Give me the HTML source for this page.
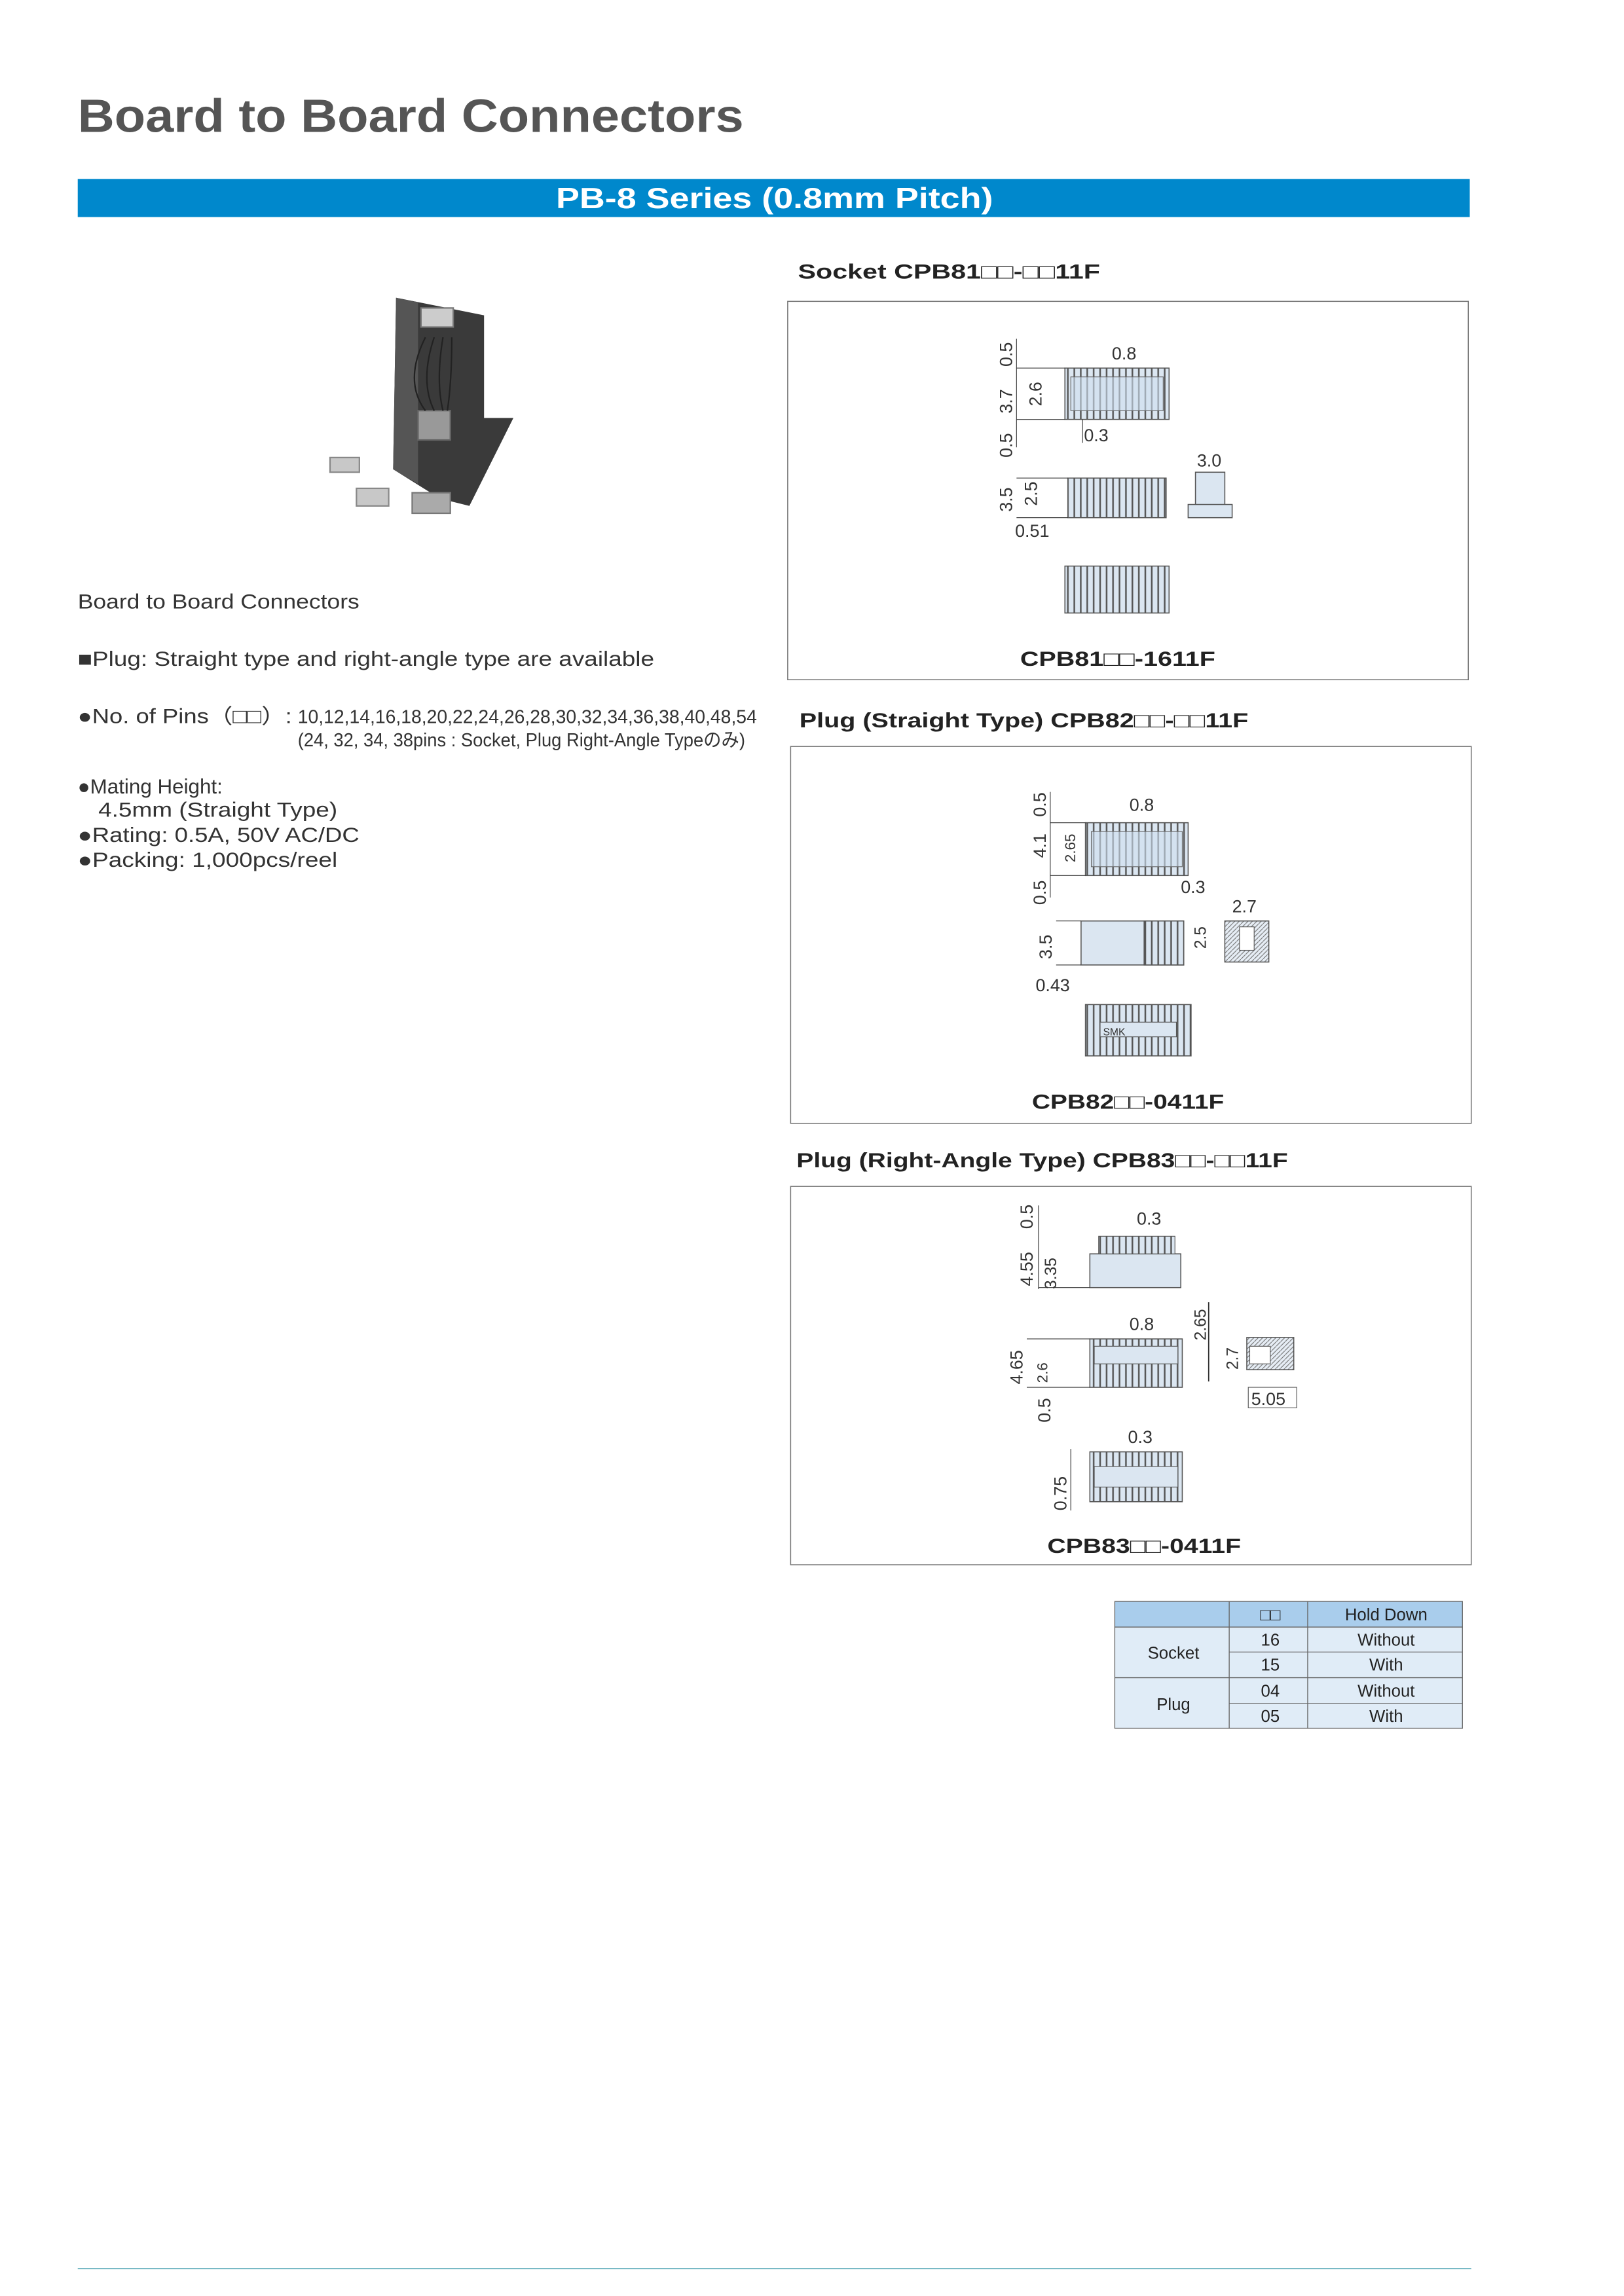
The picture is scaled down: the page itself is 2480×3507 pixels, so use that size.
<!DOCTYPE html>
<html><head><meta charset="utf-8"><style>
html,body{margin:0;padding:0;background:#fff;}
svg{display:block;}
text{font-family:"Liberation Sans","Noto Sans CJK JP",sans-serif;}
</style></head><body>
<svg width="2480" height="3507" viewBox="0 0 2480 3507" xmlns="http://www.w3.org/2000/svg">
<defs>
<pattern id="pins" width="4.4" height="10" patternUnits="userSpaceOnUse"><rect width="4.4" height="10" fill="#dbe6f1"/><line x1="2" y1="0" x2="2" y2="10" stroke="#555" stroke-width="1.1"/></pattern>
<pattern id="hatch" width="3" height="3" patternUnits="userSpaceOnUse"><rect width="3" height="3" fill="#e6edf5"/><line x1="0" y1="3" x2="3" y2="0" stroke="#777" stroke-width="0.5"/></pattern>
</defs>
<g transform="scale(2.24)">
<text x="53" y="90" font-size="32" font-weight="bold" fill="#555" textLength="454" lengthAdjust="spacingAndGlyphs">Board to Board Connectors</text>
<rect x="53" y="122" width="949" height="26" fill="#0088cc"/>
<text x="528" y="142" font-size="20" font-weight="bold" fill="#fff" text-anchor="middle" textLength="298" lengthAdjust="spacingAndGlyphs">PB-8 Series (0.8mm Pitch)</text>

<!-- photo -->
<polygon points="270,203 330,215 330,285 350,285 320,345 300,340 268,320" fill="#3a3a3a"/>
<polygon points="270,203 285,206 285,330 268,320" fill="#555"/>
<rect x="287" y="210" width="22" height="13" fill="#ccc" stroke="#777"/>
<rect x="285" y="280" width="22" height="20" fill="#999" stroke="#666"/>
<path d="M290 230 q-15 30 0 50 M296 230 q-10 30 0 50 M302 230 q-5 30 0 50 M308 230 q0 30 -3 50" stroke="#222" fill="none"/>
<rect x="225" y="312" width="20" height="10" fill="#c8c8c8" stroke="#888"/>
<rect x="243" y="333" width="22" height="12" fill="#c8c8c8" stroke="#888"/>
<rect x="281" y="336" width="26" height="14" fill="#aaa" stroke="#777"/>

<text x="53" y="415" font-size="14" fill="#333" textLength="192" lengthAdjust="spacingAndGlyphs">Board to Board Connectors</text>
<text x="53" y="454" font-size="14" fill="#333" textLength="393" lengthAdjust="spacingAndGlyphs">■Plug: Straight type and right-angle type are available</text>
<text x="53" y="493" font-size="14" fill="#333" textLength="146" lengthAdjust="spacingAndGlyphs">●No. of Pins（□□）:</text>
<text x="203" y="493" font-size="13" fill="#333" textLength="313" lengthAdjust="spacingAndGlyphs">10,12,14,16,18,20,22,24,26,28,30,32,34,36,38,40,48,54</text>
<text x="203" y="509" font-size="13" fill="#333" textLength="305" lengthAdjust="spacingAndGlyphs">(24, 32, 34, 38pins : Socket, Plug Right-Angle Typeのみ)</text>
<text x="53" y="541" font-size="14" fill="#333">●Mating Height:</text>
<text x="67" y="557" font-size="14" fill="#333" textLength="163" lengthAdjust="spacingAndGlyphs">4.5mm (Straight Type)</text>
<text x="53" y="574" font-size="14" fill="#333" textLength="192" lengthAdjust="spacingAndGlyphs">●Rating: 0.5A, 50V AC/DC</text>
<text x="53" y="591" font-size="14" fill="#333" textLength="177" lengthAdjust="spacingAndGlyphs">●Packing: 1,000pcs/reel</text>

<!-- Socket -->
<text x="544" y="190" font-size="14" font-weight="bold" fill="#222" textLength="206" lengthAdjust="spacingAndGlyphs">Socket  CPB81□□-□□11F</text>
<rect x="537" y="205.5" width="464" height="258" fill="#fff" stroke="#777" stroke-width="0.7"/>
<g fill="#333" font-size="12">
<rect x="726" y="251" width="71" height="35" fill="url(#pins)" stroke="#555" stroke-width="0.7"/>
<rect x="730" y="257" width="63" height="23" fill="#cfe0f0" fill-opacity="0.6" stroke="#666" stroke-width="0.5"/>
<line x1="693" y1="231" x2="693" y2="305" stroke="#333" stroke-width="0.5"/>
<line x1="693" y1="251" x2="726" y2="251" stroke="#333" stroke-width="0.5"/>
<line x1="693" y1="286" x2="726" y2="286" stroke="#333" stroke-width="0.5"/>
<line x1="738" y1="286" x2="738" y2="302" stroke="#333" stroke-width="0.5"/>
<text transform="translate(690,250) rotate(-90)">0.5</text>
<text transform="translate(690,282) rotate(-90)">3.7</text>
<text transform="translate(690,312) rotate(-90)">0.5</text>
<text transform="translate(710,277) rotate(-90)">2.6</text>
<text x="758" y="245">0.8</text>
<text x="739" y="301">0.3</text>
<rect x="728" y="326" width="67" height="27" fill="url(#pins)" stroke="#555" stroke-width="0.7"/>
<line x1="693" y1="326" x2="728" y2="326" stroke="#333" stroke-width="0.5"/>
<line x1="693" y1="353" x2="728" y2="353" stroke="#333" stroke-width="0.5"/>
<text transform="translate(690,349) rotate(-90)">3.5</text>
<text transform="translate(707,345) rotate(-90)">2.5</text>
<text x="692" y="366">0.51</text>
<text x="816" y="318">3.0</text>
<rect x="815" y="322" width="20" height="26" fill="#dbe6f1" stroke="#555" stroke-width="0.7"/>
<rect x="810" y="344" width="30" height="9" fill="#dbe6f1" stroke="#555" stroke-width="0.7"/>
<rect x="726" y="386" width="71" height="32" fill="url(#pins)" stroke="#555" stroke-width="0.7"/>
</g>
<text x="762" y="454" font-size="14" font-weight="bold" fill="#222" text-anchor="middle" textLength="133" lengthAdjust="spacingAndGlyphs">CPB81□□-1611F</text>

<!-- Plug straight -->
<text x="545" y="496" font-size="14" font-weight="bold" fill="#222" textLength="306" lengthAdjust="spacingAndGlyphs">Plug (Straight Type) CPB82□□-□□11F</text>
<rect x="539" y="509" width="464" height="257" fill="#fff" stroke="#777" stroke-width="0.7"/>
<g fill="#333" font-size="12">
<rect x="740" y="561" width="70" height="36" fill="url(#pins)" stroke="#555" stroke-width="0.7"/>
<rect x="744" y="567" width="62" height="24" fill="#cfe0f0" fill-opacity="0.6" stroke="#666" stroke-width="0.5"/>
<line x1="716" y1="540" x2="716" y2="612" stroke="#333" stroke-width="0.5"/>
<line x1="716" y1="561" x2="740" y2="561" stroke="#333" stroke-width="0.5"/>
<line x1="716" y1="597" x2="740" y2="597" stroke="#333" stroke-width="0.5"/>
<text transform="translate(713,557) rotate(-90)">0.5</text>
<text transform="translate(713,585) rotate(-90)">4.1</text>
<text transform="translate(713,617) rotate(-90)">0.5</text>
<text transform="translate(733,588) rotate(-90)" font-size="10">2.65</text>
<text x="770" y="553">0.8</text>
<text x="805" y="609">0.3</text>
<rect x="737" y="628" width="70" height="30" fill="#dbe6f1" stroke="#555" stroke-width="0.7"/>
<rect x="780" y="628" width="27" height="30" fill="url(#pins)" stroke="#555" stroke-width="0.7"/>
<line x1="720" y1="628" x2="737" y2="628" stroke="#333" stroke-width="0.5"/>
<line x1="720" y1="658" x2="737" y2="658" stroke="#333" stroke-width="0.5"/>
<text transform="translate(717,654) rotate(-90)">3.5</text>
<text transform="translate(822,647) rotate(-90)" font-size="11">2.5</text>
<text x="706" y="676">0.43</text>
<text x="840" y="622">2.7</text>
<rect x="835" y="628" width="30" height="28" fill="url(#hatch)" stroke="#555" stroke-width="0.7"/>
<rect x="845" y="632" width="10" height="16" fill="#fff" stroke="#555" stroke-width="0.5"/>
<rect x="740" y="685" width="72" height="35" fill="url(#pins)" stroke="#555" stroke-width="0.7"/>
<rect x="750" y="697" width="52" height="10" fill="#dbe6f1" stroke="#555" stroke-width="0.5"/>
<text x="752" y="706" font-size="7">SMK</text>
</g>
<text x="769" y="756" font-size="14" font-weight="bold" fill="#222" text-anchor="middle" textLength="131" lengthAdjust="spacingAndGlyphs">CPB82□□-0411F</text>

<!-- Plug right angle -->
<text x="543" y="796" font-size="14" font-weight="bold" fill="#222" textLength="335" lengthAdjust="spacingAndGlyphs">Plug (Right-Angle Type) CPB83□□-□□11F</text>
<rect x="539" y="809" width="464" height="258" fill="#fff" stroke="#777" stroke-width="0.7"/>
<g fill="#333" font-size="12">
<rect x="743" y="855" width="62" height="23" fill="#dbe6f1" stroke="#555" stroke-width="0.7"/>
<rect x="749" y="843" width="52" height="12" fill="url(#pins)" stroke="#555" stroke-width="0.5"/>
<line x1="708" y1="822" x2="708" y2="879" stroke="#333" stroke-width="0.5"/>
<line x1="708" y1="878" x2="743" y2="878" stroke="#333" stroke-width="0.5"/>
<text transform="translate(704,838) rotate(-90)">0.5</text>
<text transform="translate(704,877) rotate(-90)">4.55</text>
<text transform="translate(720,879) rotate(-90)" font-size="11">3.35</text>
<text x="775" y="835">0.3</text>
<rect x="743" y="913" width="63" height="33" fill="url(#pins)" stroke="#555" stroke-width="0.7"/>
<rect x="746" y="918" width="57" height="12" fill="#dbe6f1" stroke="#555" stroke-width="0.5"/>
<line x1="700" y1="913" x2="743" y2="913" stroke="#333" stroke-width="0.5"/>
<line x1="700" y1="946" x2="743" y2="946" stroke="#333" stroke-width="0.5"/>
<line x1="824" y1="888" x2="824" y2="942" stroke="#333" stroke-width="0.8"/>
<text transform="translate(697,944) rotate(-90)">4.65</text>
<text transform="translate(714,943) rotate(-90)" font-size="10">2.6</text>
<text transform="translate(716,970) rotate(-90)">0.5</text>
<text x="770" y="907">0.8</text>
<text transform="translate(822,914) rotate(-90)" font-size="11">2.65</text>
<text transform="translate(844,934) rotate(-90)" font-size="11">2.7</text>
<rect x="850" y="912" width="32" height="22" fill="url(#hatch)" stroke="#555" stroke-width="0.7"/>
<rect x="852" y="918" width="14" height="12" fill="#fff" stroke="#555" stroke-width="0.5"/>
<text x="853" y="958">5.05</text>
<rect x="851" y="946" width="33" height="14" fill="none" stroke="#555" stroke-width="0.5"/>
<rect x="743" y="990" width="63" height="34" fill="url(#pins)" stroke="#555" stroke-width="0.7"/>
<rect x="746" y="1000" width="57" height="14" fill="#dbe6f1" stroke="#555" stroke-width="0.5"/>
<text x="769" y="984">0.3</text>
<line x1="730" y1="988" x2="730" y2="1030" stroke="#333" stroke-width="0.5"/>
<text transform="translate(727,1030) rotate(-90)">0.75</text>
</g>
<text x="780" y="1059" font-size="14" font-weight="bold" fill="#222" text-anchor="middle" textLength="132" lengthAdjust="spacingAndGlyphs">CPB83□□-0411F</text>

<!-- table -->
<g stroke="#666" stroke-width="0.6" font-size="11.5" fill="#222">
<rect x="760" y="1092" width="237" height="17.5" fill="#a9cdec"/>
<rect x="760" y="1109.5" width="237" height="69" fill="#e0ecf7"/>
<line x1="760" y1="1109.5" x2="997" y2="1109.5"/>
<line x1="838" y1="1126.5" x2="997" y2="1126.5"/>
<line x1="760" y1="1144" x2="997" y2="1144"/>
<line x1="838" y1="1161.5" x2="997" y2="1161.5"/>
<line x1="838" y1="1092" x2="838" y2="1178.5"/>
<line x1="891.5" y1="1092" x2="891.5" y2="1178.5"/>
</g>
<g font-size="11.5" fill="#222" text-anchor="middle">
<text x="866" y="1105">□□</text>
<text x="945" y="1105">Hold Down</text>
<text x="800" y="1131">Socket</text>
<text x="866" y="1122">16</text><text x="945" y="1122">Without</text>
<text x="866" y="1139">15</text><text x="945" y="1139">With</text>
<text x="800" y="1166">Plug</text>
<text x="866" y="1157">04</text><text x="945" y="1157">Without</text>
<text x="866" y="1174">05</text><text x="945" y="1174">With</text>
</g>

<line x1="53" y1="1547" x2="1003" y2="1547" stroke="#5aaab8" stroke-width="0.8"/>
</g>
</svg>
</body></html>
